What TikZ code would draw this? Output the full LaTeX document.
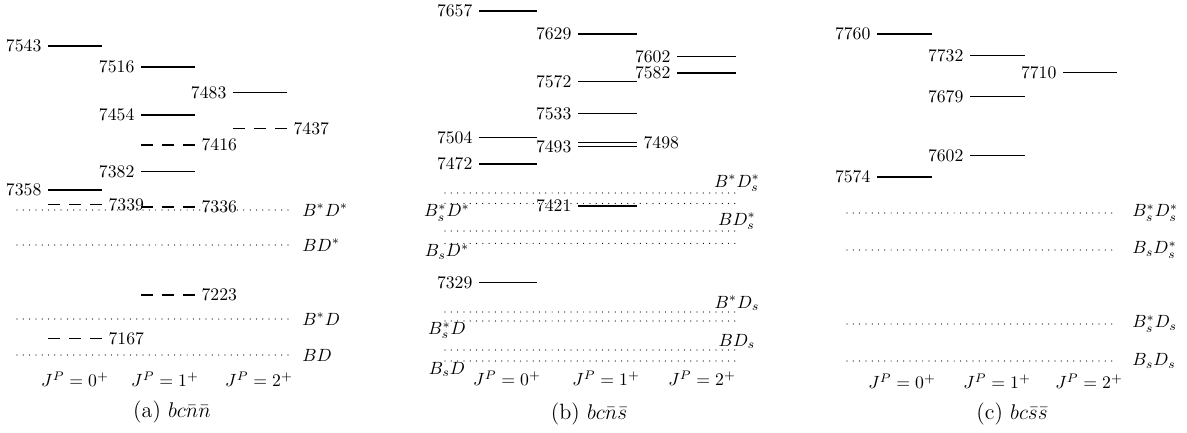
\documentclass[tikz,border=0pt]{standalone}
\begin{document}
\begin{tikzpicture}[x=0.565pt, y=-0.565pt,
  lvl/.style={line width=0.8pt},
  dlvl/.style={line width=0.8pt, dash pattern=on 6.8pt off 5.1pt},
  thr/.style={line width=0.7pt, line cap=round, dash pattern=on 0pt off 3.56pt},
  thrr/.style={anchor=west, inner sep=0pt},
  thra/.style={anchor=south, inner sep=0.5pt},
  thrb/.style={anchor=north, inner sep=0.5pt},
  jp/.style={inner sep=0pt},
  capt/.style={inner sep=0pt, font=\fontsize{12.5}{15}\selectfont}]
\useasboundingbox (0,0) rectangle (1187,433);

% ---------------- panel (a) ----------------
\draw[lvl]  (48,46)    -- (102,46)    node[pos=0,left]  (a7543) {7543};
\draw[lvl]  (141,67)   -- (195,67)    node[pos=0,left]  (a7516) {7516};
\draw[lvl]  (233,92.7) -- (287,92.7)  node[pos=0,left]  (a7483) {7483};
\draw[lvl]  (141,115.2)-- (195,115.2) node[pos=0,left]  (a7454) {7454};
\draw[dlvl] (233,128.5)-- (287,128.5) node[pos=1,right] (a7437) {7437};
\draw[dlvl] (141,144.8)-- (195,144.8) node[pos=1,right] (a7416) {7416};
\draw[lvl]  (141,171.3)-- (195,171.3) node[pos=0,left]  (a7382) {7382};
\draw[lvl]  (48,189.9) -- (102,189.9) node[pos=0,left]  (a7358) {7358};
\draw[dlvl] (48,204.7) -- (102,204.7) node[pos=1,right] (a7339) {7339};
\draw[dlvl] (141,207)  -- (195,207)   node[pos=1,right] (a7336) {7336};
\draw[dlvl] (141,295)  -- (195,295)   node[pos=1,right] (a7223) {7223};
\draw[dlvl] (48,338.5) -- (102,338.5) node[pos=1,right] (a7167) {7167};

\draw[thr] (17,210) -- (288,210);
\node[thrr] (aBsDs) at (302,210) {$B^*D^*$};
\draw[thr] (17,245) -- (288,245);
\node[thrr] (aBDs) at (302,245) {$BD^*$};
\draw[thr] (17,319) -- (288,319);
\node[thrr] (aBsD) at (302,319) {$B^*D$};
\draw[thr] (17,355) -- (288,355);
\node[thrr] (aBD) at (302,355) {$BD$};

\node[jp] (aj0) at (75,379)  {$J^P=0^+$};
\node[jp] (aj1) at (165,379) {$J^P=1^+$};
\node[jp] (aj2) at (259,379) {$J^P=2^+$};
\node[capt] (acap) at (172,412) {(a) $bc\bar n\bar n$};

% ---------------- panel (b) ----------------
\draw[lvl] (479,11)    -- (537,11)    node[pos=0,left] (b7657) {7657};
\draw[lvl] (578,34.2)  -- (637,34.2)  node[pos=0,left] (b7629) {7629};
\draw[lvl] (677,56.5)  -- (736,56.5)  node[pos=0,left] (b7602) {7602};
\draw[lvl] (677,73)    -- (736,73)    node[pos=0,left] (b7582) {7582};
\draw[lvl] (578,81.3)  -- (637,81.3)  node[pos=0,left] (b7572) {7572};
\draw[lvl] (578,113.5) -- (637,113.5) node[pos=0,left] (b7533) {7533};
\draw[lvl] (479,137.5) -- (537,137.5) node[pos=0,left] (b7504) {7504};
\draw[lvl] (578,142.5) -- (637,142.5) node[pos=1,right] (b7498) {7498};
\draw[lvl] (578,146.6) -- (637,146.6) node[pos=0,left] (b7493) {7493};
\draw[lvl] (479,164)   -- (537,164)   node[pos=0,left] (b7472) {7472};
\draw[lvl] (578,206.2) -- (637,206.2) node[pos=0,left] (b7421) {7421};
\draw[lvl] (479,282.3) -- (537,282.3) node[pos=0,left] (b7329) {7329};

\draw[thr] (445,193)   -- (738,193);
\node[thra] (bBsDss) at (737,193) {$B^*D_s^*$};
\draw[thr] (445,203.5) -- (738,203.5);
\node[thrb] (bBssDs) at (447,203.5) {$B_s^*D^*$};
\draw[thr] (445,231)   -- (738,231);
\node[thra] (bBDss) at (737,231) {$BD_s^*$};
\draw[thr] (445,243.4) -- (738,243.4);
\node[thrb] (bBsDs) at (447,243.4) {$B_sD^*$};
\draw[thr] (445,312)   -- (738,312);
\node[thra] (bBsDsb) at (737,312) {$B^*D_s$};
\draw[thr] (445,321)   -- (738,321);
\node[thrb] (bBssD) at (447,321) {$B_s^*D$};
\draw[thr] (445,350)   -- (738,350);
\node[thra] (bBDsb) at (737,350) {$BD_s$};
\draw[thr] (445,361)   -- (738,361);
\node[thrb] (bBsD) at (447,361) {$B_sD$};

\node[jp] (bj0) at (507,378) {$J^P=0^+$};
\node[jp] (bj1) at (606,378) {$J^P=1^+$};
\node[jp] (bj2) at (702,378) {$J^P=2^+$};
\node[capt] (bcap) at (589,414) {(b) $bc\bar n\bar s$};

% ---------------- panel (c) ----------------
\draw[lvl] (877,34)    -- (932,34)    node[pos=0,left] (c7760) {7760};
\draw[lvl] (970,55.5)  -- (1025,55.5) node[pos=0,left] (c7732) {7732};
\draw[lvl] (1063,72.5) -- (1117,72.5) node[pos=0,left] (c7710) {7710};
\draw[lvl] (970,96.3)  -- (1025,96.3) node[pos=0,left] (c7679) {7679};
\draw[lvl] (970,155.5) -- (1025,155.5) node[pos=0,left] (c7602) {7602};
\draw[lvl] (877,177)   -- (932,177)   node[pos=0,left] (c7574) {7574};

\draw[thr] (847,213) -- (1117,213);
\node[thrr] (cBssDss) at (1132,213) {$B_s^*D_s^*$};
\draw[thr] (847,250) -- (1117,250);
\node[thrr] (cBsDss) at (1132,250) {$B_sD_s^*$};
\draw[thr] (847,324) -- (1117,324);
\node[thrr] (cBssDs) at (1132,324) {$B_s^*D_s$};
\draw[thr] (847,361) -- (1117,361);
\node[thrr] (cBsDs) at (1132,361) {$B_sD_s$};

\node[jp] (cj0) at (902,381)  {$J^P=0^+$};
\node[jp] (cj1) at (997,381)  {$J^P=1^+$};
\node[jp] (cj2) at (1089,381) {$J^P=2^+$};
\node[capt] (ccap) at (1012,414) {(c) $bc\bar s\bar s$};
\end{tikzpicture}
\end{document}
